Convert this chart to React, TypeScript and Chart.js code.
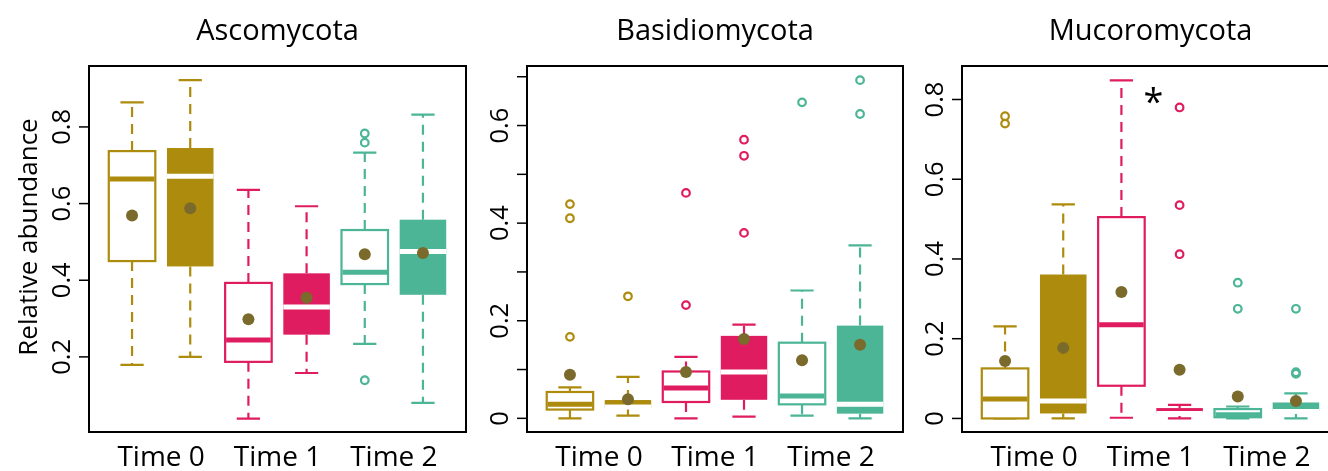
import React, { useEffect, useRef } from "react";
import { Chart, registerables } from "chart.js";

Chart.register(...registerables);

// ---------- data ----------
const categories = ["Time 0", "Time 1", "Time 2"];
const categoryPositions = [1.5, 3.5, 5.5];
const panelTitles = ["Ascomycota", "Basidiomycota", "Mucoromycota"];
const yAxisTitle = "Relative abundance";

// box order: Time0 open, Time0 filled, Time1 open, Time1 filled, Time2 open, Time2 filled
const boxColors = ["#AD8B0D", "#AD8B0D", "#DF1C5F", "#DF1C5F", "#4BB596", "#4BB596"];
const boxFilled = [false, true, false, true, false, true];
const meanColor = "#7A6A2C";

// Ascomycota
const ascoLower = [0.179, 0.2, 0.039, 0.158, 0.234, 0.08];
const ascoQ1 = [0.45, 0.436, 0.187, 0.258, 0.39, 0.362];
const ascoMedian = [0.664, 0.671, 0.244, 0.33, 0.421, 0.475];
const ascoQ3 = [0.737, 0.745, 0.393, 0.418, 0.531, 0.558];
const ascoUpper = [0.864, 0.922, 0.636, 0.593, 0.733, 0.832];
const ascoMean = [0.569, 0.588, 0.298, 0.354, 0.468, 0.471];
const ascoOutliers = [[], [], [], [], [0.783, 0.759, 0.139], []];
const ascoTicks = [0.2, 0.4, 0.6, 0.8];
const ascoTickLabels = ["0.2", "0.4", "0.6", "0.8"];

// Basidiomycota
const basiLower = [0.0, 0.0055, 0.0, 0.0035, 0.0055, 0.0];
const basiQ1 = [0.018, 0.022, 0.0335, 0.038, 0.0287, 0.0096];
const basiMedian = [0.029, 0.023, 0.062, 0.095, 0.046, 0.029];
const basiQ3 = [0.054, 0.0375, 0.096, 0.169, 0.155, 0.19];
const basiUpper = [0.0635, 0.085, 0.126, 0.192, 0.262, 0.3545];
const basiMean = [0.0895, 0.039, 0.095, 0.1625, 0.119, 0.151];
const basiOutliers = [[0.439, 0.41, 0.167], [0.25], [0.462, 0.232], [0.571, 0.538, 0.38], [0.6475], [0.693, 0.6236]];
const basiTicks = [0, 0.1, 0.2, 0.3, 0.4, 0.5, 0.6, 0.7];
const basiTickLabels = ["0", "", "0.2", "", "0.4", "", "0.6", ""];

// Mucoromycota
const mucoLower = [0.0, 0.0, 0.0017, 0.0, 0.0, 0.0];
const mucoQ1 = [0.0, 0.0125, 0.082, 0.0134, 0.003, 0.019];
const mucoMedian = [0.0485, 0.0435, 0.235, 0.0125, 0.009, 0.0175];
const mucoQ3 = [0.1255, 0.361, 0.505, 0.026, 0.0235, 0.04];
const mucoUpper = [0.231, 0.537, 0.848, 0.034, 0.03, 0.0627];
const mucoMean = [0.144, 0.177, 0.317, 0.122, 0.055, 0.0435];
const mucoOutliers = [[0.758, 0.7395], [], [], [0.78, 0.535, 0.412], [0.3405, 0.275], [0.275, 0.116, 0.112]];
const mucoTicks = [0, 0.2, 0.4, 0.6, 0.8];
const mucoTickLabels = ["0", "0.2", "0.4", "0.6", "0.8"];
const mucoAnnotation = { text: "*", x: 3.55, y: 0.81 };

// ---------- layout ----------
const FONT = '"Open Sans", "Noto Sans", sans-serif';

type PanelSpec = {
  title: string;
  lower: number[];
  q1: number[];
  median: number[];
  q3: number[];
  upper: number[];
  mean: number[];
  outliers: number[][];
  yMin: number;
  yMax: number;
  ticks: number[];
  tickLabels: string[];
  left: number;
  width: number;
  padLeft: number;
  padRight: number;
  showYTitle: boolean;
  annotation?: { text: string; x: number; y: number };
};

const panels: PanelSpec[] = [
  {
    title: panelTitles[0], lower: ascoLower, q1: ascoQ1, median: ascoMedian, q3: ascoQ3, upper: ascoUpper,
    mean: ascoMean, outliers: ascoOutliers, yMin: 0.004, yMax: 0.959, ticks: ascoTicks, tickLabels: ascoTickLabels,
    left: 0, width: 476, padLeft: 89, padRight: 10, showYTitle: true,
  },
  {
    title: panelTitles[1], lower: basiLower, q1: basiQ1, median: basiMedian, q3: basiQ3, upper: basiUpper,
    mean: basiMean, outliers: basiOutliers, yMin: -0.028, yMax: 0.722, ticks: basiTicks, tickLabels: basiTickLabels,
    left: 476, width: 440, padLeft: 51, padRight: 13, showYTitle: false,
  },
  {
    title: panelTitles[2], lower: mucoLower, q1: mucoQ1, median: mucoMedian, q3: mucoQ3, upper: mucoUpper,
    mean: mucoMean, outliers: mucoOutliers, yMin: -0.034, yMax: 0.884, ticks: mucoTicks, tickLabels: mucoTickLabels,
    left: 916, width: 440, padLeft: 46, padRight: 17, showYTitle: false, annotation: mucoAnnotation,
  },
];

const HEIGHT = 471;

function makeBoxPlugin(p: PanelSpec) {
  return {
    id: "boxplotDraw",
    beforeDatasetsDraw(chart: any) {
      const ctx: CanvasRenderingContext2D = chart.ctx;
      const xs = chart.scales.x;
      const ys = chart.scales.y;
      ctx.save();
      for (let i = 0; i < p.q1.length; i++) {
        const color = boxColors[i];
        const cx = xs.getPixelForValue(i + 1);
        const hw = xs.getPixelForValue(i + 1 + 0.4) - cx;
        const cw = xs.getPixelForValue(i + 1 + 0.2) - cx;
        const yLo = ys.getPixelForValue(p.lower[i]);
        const yQ1 = ys.getPixelForValue(p.q1[i]);
        const yMed = ys.getPixelForValue(p.median[i]);
        const yQ3 = ys.getPixelForValue(p.q3[i]);
        const yHi = ys.getPixelForValue(p.upper[i]);
        ctx.strokeStyle = color;
        ctx.lineWidth = 2.2;
        ctx.lineCap = "butt";
        // whiskers (dashed)
        ctx.setLineDash([10, 7]);
        ctx.beginPath();
        ctx.moveTo(cx, yQ3);
        ctx.lineTo(cx, yHi);
        ctx.moveTo(cx, yQ1);
        ctx.lineTo(cx, yLo);
        ctx.stroke();
        ctx.setLineDash([]);
        // staples
        ctx.beginPath();
        ctx.moveTo(cx - cw, yHi);
        ctx.lineTo(cx + cw, yHi);
        ctx.moveTo(cx - cw, yLo);
        ctx.lineTo(cx + cw, yLo);
        ctx.stroke();
        // box
        if (boxFilled[i]) {
          ctx.fillStyle = color;
          ctx.fillRect(cx - hw, yQ3, 2 * hw, yQ1 - yQ3);
        } else {
          ctx.fillStyle = "#ffffff";
          ctx.fillRect(cx - hw, yQ3, 2 * hw, yQ1 - yQ3);
          ctx.strokeRect(cx - hw, yQ3, 2 * hw, yQ1 - yQ3);
        }
        // median
        ctx.strokeStyle = boxFilled[i] ? "#ffffff" : color;
        ctx.lineWidth = 5;
        ctx.beginPath();
        ctx.moveTo(cx - hw + (boxFilled[i] ? 0 : 1), yMed);
        ctx.lineTo(cx + hw - (boxFilled[i] ? 0 : 1), yMed);
        ctx.stroke();
      }
      ctx.restore();
    },
    afterDraw(chart: any) {
      const ctx: CanvasRenderingContext2D = chart.ctx;
      const xs = chart.scales.x;
      const ys = chart.scales.y;
      const a = chart.chartArea;
      ctx.save();
      // frame
      ctx.strokeStyle = "#000";
      ctx.lineWidth = 2;
      ctx.strokeRect(a.left, a.top, a.right - a.left, a.bottom - a.top);
      // y ticks
      ctx.lineWidth = 1.5;
      ctx.fillStyle = "#000";
      ctx.font = `25.5px ${FONT}`;
      ctx.textAlign = "center";
      ctx.textBaseline = "alphabetic";
      p.ticks.forEach((t, k) => {
        const y = ys.getPixelForValue(t);
        ctx.beginPath();
        ctx.moveTo(a.left - 10, y);
        ctx.lineTo(a.left, y);
        ctx.stroke();
        const lab = p.tickLabels[k];
        if (lab) {
          ctx.save();
          ctx.translate(a.left - 19, y);
          ctx.rotate(-Math.PI / 2);
          ctx.fillText(lab, 0, 0);
          ctx.restore();
        }
      });
      // x category labels
      ctx.font = `28px ${FONT}`;
      categories.forEach((c, k) => {
        ctx.fillText(c, xs.getPixelForValue(categoryPositions[k]), 465.5);
      });
      // title
      ctx.font = `29px ${FONT}`;
      ctx.fillText(p.title, (a.left + a.right) / 2, 40);
      // y axis title
      if (p.showYTitle) {
        ctx.save();
        ctx.font = `26px ${FONT}`;
        ctx.translate(36.5, 237);
        ctx.rotate(-Math.PI / 2);
        ctx.fillText(yAxisTitle, 0, 0);
        ctx.restore();
      }
      // annotation
      if (p.annotation) {
        ctx.font = `36px ${FONT}`;
        const m = ctx.measureText(p.annotation.text);
        const yc = ys.getPixelForValue(p.annotation.y);
        const base = yc + (m.actualBoundingBoxAscent - m.actualBoundingBoxDescent) / 2;
        ctx.fillText(p.annotation.text, xs.getPixelForValue(p.annotation.x), base);
      }
      ctx.restore();
    },
  };
}

function Panel({ p }: { p: PanelSpec }) {
  const ref = useRef<HTMLCanvasElement | null>(null);
  useEffect(() => {
    if (!ref.current) return;
    const meanData = p.mean.map((m, i) => ({ x: i + 1, y: m }));
    const outlierSets = p.outliers.map((vals, i) => ({
      type: "scatter" as const,
      label: `outliers ${i}`,
      data: vals.map((v) => ({ x: i + 1, y: v })),
      pointRadius: 3.8,
      pointBorderWidth: 2.2,
      pointBackgroundColor: "rgba(255,255,255,0)",
      pointBorderColor: boxColors[i],
      showLine: false,
    }));
    const chart = new Chart(ref.current, {
      type: "scatter",
      data: {
        datasets: [
          {
            label: "mean",
            data: meanData,
            pointRadius: 6,
            pointBorderWidth: 0,
            pointBackgroundColor: meanColor,
            pointBorderColor: meanColor,
            showLine: false,
          },
          ...outlierSets,
        ],
      },
      options: {
        responsive: false,
        maintainAspectRatio: false,
        animation: false,
        devicePixelRatio: 1,
        events: [],
        layout: { padding: { left: p.padLeft, right: p.padRight, top: 66, bottom: HEIGHT - 432 } },
        plugins: { legend: { display: false }, title: { display: false }, tooltip: { enabled: false } },
        scales: {
          x: { type: "linear", min: 0.26, max: 6.74, display: false },
          y: { type: "linear", min: p.yMin, max: p.yMax, display: false },
        },
      },
      plugins: [makeBoxPlugin(p)],
    });
    return () => chart.destroy();
  }, [p]);
  return (
    <div style={{ position: "absolute", left: p.left, top: 0, width: p.width, height: HEIGHT }}>
      <canvas ref={ref} width={p.width} height={HEIGHT} style={{ width: p.width, height: HEIGHT, display: "block" }} />
    </div>
  );
}

export default function App() {
  return (
    <div
      style={{
        position: "absolute",
        left: 0,
        top: 0,
        width: 1328,
        height: HEIGHT,
        overflow: "hidden",
        background: "#ffffff",
      }}
    >
      {panels.map((p, i) => (
        <Panel key={i} p={p} />
      ))}
    </div>
  );
}
